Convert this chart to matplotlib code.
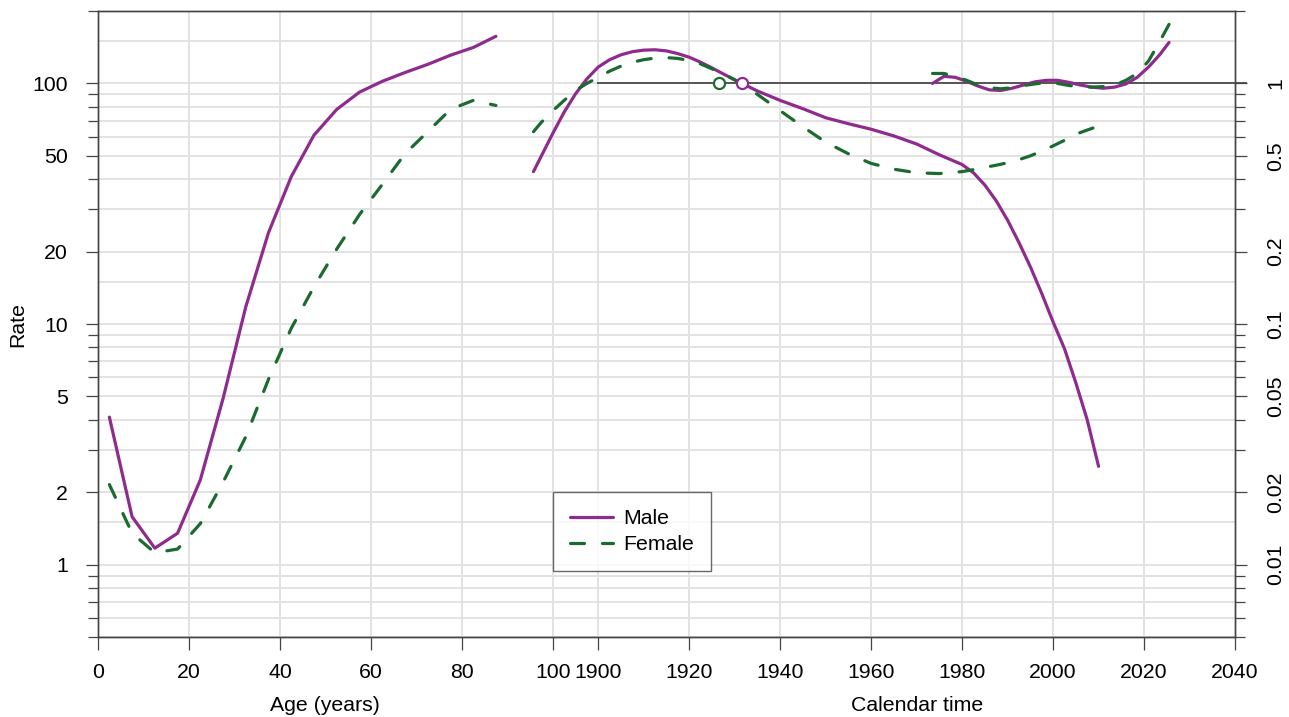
import numpy as np
import matplotlib.pyplot as plt
from matplotlib.lines import Line2D

plt.rcParams['font.family'] = ['Liberation Sans', 'DejaVu Sans']

# ====== DATA ======
# age effects (rates), age midpoints
age_mid = [2.5, 7.5, 12.5, 17.5, 22.5, 27.5, 32.5, 37.5, 42.5,
           47.5, 52.5, 57.5, 62.5, 67.5, 72.5, 77.5, 82.5, 87.5]
rate_male = [4.1, 1.58, 1.17, 1.35, 2.25, 4.9, 11.8, 24.0, 41.0,
             61.0, 78.0, 92.0, 102.0, 111.0, 120.0, 131.0, 141.0, 157.0]
rate_female = [2.15, 1.35, 1.12, 1.16, 1.48, 2.2, 3.4, 5.9, 9.6,
               14.3, 20.5, 28.5, 38.0, 51.0, 63.0, 78.0, 85.0, 81.0]

# cohort effects (RR)
coh_year = [1885.75, 1887.5, 1890, 1892.5, 1895, 1897.5, 1900, 1902.5, 1905,
            1907.5, 1910, 1912.5, 1915, 1917.5, 1920, 1922.5, 1925, 1927.5,
            1930, 1935, 1940, 1945, 1950, 1955, 1960, 1965, 1970, 1975, 1980,
            1982.5, 1985, 1987.5, 1990, 1992.5, 1995, 1997.5, 2000, 2002.5,
            2005, 2007.5, 2010]
coh_male = [0.43, 0.50, 0.62, 0.76, 0.905, 1.045, 1.17, 1.255, 1.315,
            1.355, 1.375, 1.38, 1.365, 1.33, 1.285, 1.225, 1.16, 1.095,
            1.035, 0.93, 0.85, 0.785, 0.72, 0.68, 0.645, 0.605, 0.56, 0.505, 0.46,
            0.425, 0.378, 0.325, 0.27, 0.218, 0.173, 0.134, 0.102, 0.079,
            0.057, 0.040, 0.0256]
coh_female = [0.63, 0.69, 0.77, 0.85, 0.935, 1.00, 1.06, 1.125, 1.18,
              1.225, 1.255, 1.275, 1.28, 1.27, 1.245, 1.205, 1.15, 1.095,
              1.035, 0.90, 0.77, 0.66, 0.57, 0.51, 0.465, 0.44, 0.425, 0.422, 0.43,
              0.438, 0.448, 0.457, 0.468, 0.482, 0.50, 0.523, 0.55, 0.58,
              0.615, 0.64, 0.665]
coh_ref_male = 1931.5
coh_ref_female = 1926.5

# period effects (RR)
per_year = [1973.5, 1976, 1978.5, 1981, 1983.5, 1986, 1988.5, 1991, 1993.5,
            1996, 1998.5, 2001, 2003.5, 2006, 2008.5, 2011, 2013.5, 2016,
            2018.5, 2021, 2023.5, 2025.5]
per_male = [1.00, 1.07, 1.06, 1.02, 0.975, 0.94, 0.935, 0.955, 0.985,
            1.015, 1.03, 1.03, 1.01, 0.985, 0.965, 0.955, 0.965, 0.995,
            1.06, 1.17, 1.32, 1.48]
per_female = [1.10, 1.10, 1.07, 1.03, 0.985, 0.96, 0.95, 0.96, 0.98,
              0.995, 1.01, 1.0, 0.98, 0.97, 0.965, 0.97, 0.985, 1.03,
              1.10, 1.24, 1.50, 1.76]

age_ticks = [0, 20, 40, 60, 80, 100]
cal_ticks = [1900, 1920, 1940, 1960, 1980, 2000, 2020, 2040]
rate_major = [1, 2, 5, 10, 20, 50, 100]
rate_minor = [0.5, 0.6, 0.7, 0.8, 0.9, 3, 4, 6, 7, 8, 9, 30, 40, 60, 70, 80, 90, 200]
rate_grid = [0.5, 0.6, 0.7, 0.8, 0.9, 1, 1.5, 2, 3, 4, 5, 6, 7, 8, 9, 10,
             15, 20, 30, 40, 50, 60, 70, 80, 90, 100, 150, 200]

# ====== LAYOUT ======
CAL_OFF = 1790          # calendar year -> frame x (1900 sits 10 units right of age 100)
RR_SCALE = 100          # rate 100 <-> RR 1
PURPLE = '#8E2C8E'
GREEN = '#1B6B2F'
AXC = '#444444'
GRIDC = '#e2e2e2'
FS = 15.3

fig = plt.figure(figsize=(12.89, 7.17), dpi=100)
ax = fig.add_axes([98 / 1289, 1 - 637 / 717, (1235 - 98) / 1289, (637 - 11) / 717])
ax2 = ax.twinx()

ax.set_yscale('log')
ax2.set_yscale('log')
ax.set_xlim(0, 2040 - CAL_OFF)
ax.set_ylim(0.5, 200)
ax2.set_ylim(0.5 / RR_SCALE, 200 / RR_SCALE)

# grid
for g in rate_grid:
    ax.axhline(g, color=GRIDC, lw=1.4, zorder=0)
for v in age_ticks[1:] + [c - CAL_OFF for c in cal_ticks[:-1]]:
    ax.axvline(v, color=GRIDC, lw=1.4, zorder=0)

# age curves
lw = 2.3
dash = (0, (4.4, 5.6))
ax.plot(age_mid, rate_male, color=PURPLE, lw=lw, solid_capstyle='round',
        solid_joinstyle='round')
ax.plot(age_mid, rate_female, color=GREEN, lw=lw, ls=dash, dash_capstyle='round')

# reference line RR = 1
ax2.plot([1900 - CAL_OFF, 2040 - CAL_OFF + 2.4], [1, 1], color='#555555', lw=1.4,
         clip_on=False, zorder=1)

cy = np.array(coh_year) - CAL_OFF
py = np.array(per_year) - CAL_OFF
ax2.plot(cy, coh_male, color=PURPLE, lw=lw, solid_capstyle='round',
         solid_joinstyle='round', zorder=3)
ax2.plot(cy, coh_female, color=GREEN, lw=lw, ls=dash, dash_capstyle='round', zorder=3)
ax2.plot(py, per_male, color=PURPLE, lw=lw, solid_capstyle='round',
         solid_joinstyle='round', zorder=3)
ax2.plot(py, per_female, color=GREEN, lw=lw, ls=dash, dash_capstyle='round', zorder=3)
ax2.plot([coh_ref_female - CAL_OFF], [1], 'o', mfc='white', mec=GREEN, ms=8, mew=1.6, zorder=4)
ax2.plot([coh_ref_male - CAL_OFF], [1], 'o', mfc='white', mec=PURPLE, ms=8, mew=1.6, zorder=4)

# x ticks
xt = age_ticks + [c - CAL_OFF for c in cal_ticks]
xl = [str(a) for a in age_ticks] + [str(c) for c in cal_ticks]
ax.set_xticks(xt)
ax.set_xticklabels(xl, fontsize=FS)
ax.tick_params(axis='x', length=9, width=0.9, color=AXC, pad=9.5)

# y ticks left
ax.set_yticks(rate_major)
ax.set_yticklabels([str(v) for v in rate_major], fontsize=FS)
ax.set_yticks(rate_minor, minor=True)
ax.set_yticklabels([], minor=True)
ax.tick_params(axis='y', which='major', length=8.6, width=0.9, color=AXC, pad=13)
ax.tick_params(axis='y', which='minor', length=7.2, width=0.9, color=AXC)

# y ticks right
rr_major = [v / RR_SCALE for v in rate_major]
ax2.set_yticks(rr_major)
ax2.set_yticklabels(['0.01', '0.02', '0.05', '0.1', '0.2', '0.5', '1'], fontsize=FS,
                    rotation=90, va='center')
ax2.set_yticks([v / RR_SCALE for v in rate_minor], minor=True)
ax2.set_yticklabels([], minor=True)
ax2.tick_params(axis='y', which='major', length=8.6, width=0.9, color=AXC, pad=14)
ax2.tick_params(axis='y', which='minor', length=7.2, width=0.9, color=AXC)

for a in (ax, ax2):
    for s in a.spines.values():
        s.set_color(AXC)
        s.set_linewidth(1.0)

# axis titles
fig.text(18 / 1289, 1 - 324 / 717, 'Rate', rotation=90, fontsize=FS, ha='center', va='center')
ax.text(50, -0.109, 'Age (years)', transform=ax.get_xaxis_transform(),
        fontsize=FS, ha='center', va='center')
ax.text(1970 - CAL_OFF, -0.109, 'Calendar time', transform=ax.get_xaxis_transform(),
        fontsize=FS, ha='center', va='center')

# legend
handles = [Line2D([], [], color=PURPLE, lw=lw, solid_capstyle='round'),
           Line2D([], [], color=GREEN, lw=lw, ls=dash, dash_capstyle='round')]
leg = ax2.legend(handles, ['Male', 'Female'], loc='upper left',
                 bbox_to_anchor=(553 / 1289, 1 - 492 / 717), bbox_transform=fig.transFigure,
                 fontsize=FS, frameon=True, fancybox=False, handlelength=2.0,
                 handletextpad=0.5, borderpad=0.8, labelspacing=0.35, borderaxespad=0)
leg.get_frame().set_edgecolor(AXC)
leg.get_frame().set_linewidth(1.0)

fig.savefig('out.png', dpi=100)
